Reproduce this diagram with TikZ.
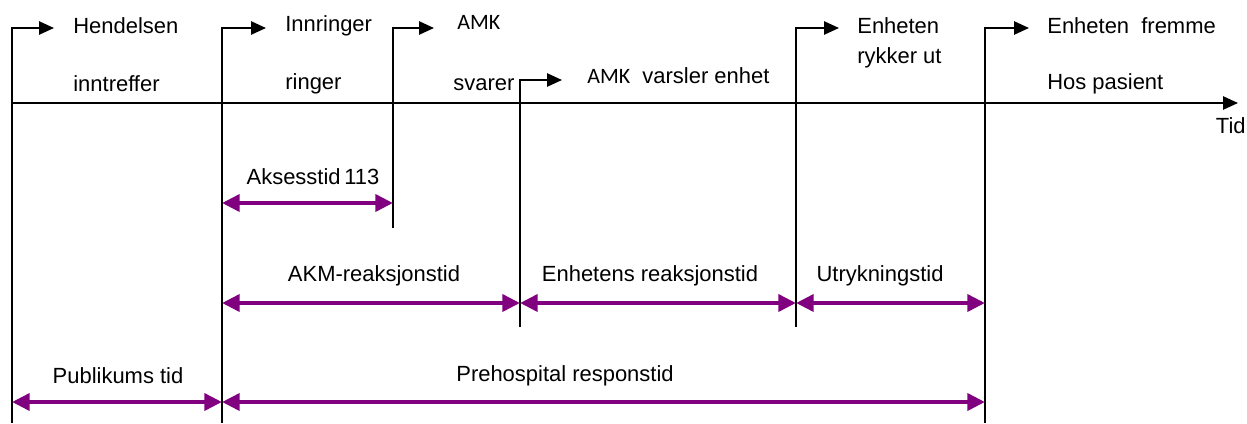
\documentclass[tikz,border=0pt]{standalone}
\usepackage{fontspec}
\setmainfont{Liberation Sans}
\newfontfamily\amkfont{Carlito}
\usetikzlibrary{arrows.meta}
\definecolor{dpurple}{RGB}{128,0,128}
\begin{document}
\begin{tikzpicture}[x=0.02cm,y=-0.02cm,
  lbl/.style={font=\fontsize{12.5}{14}\selectfont, inner sep=0pt, anchor=west},
  clbl/.style={font=\fontsize{12.5}{14}\selectfont, inner sep=0pt},
  amk/.style={font=\amkfont\fontsize{12.5}{14}\selectfont, inner sep=0pt, anchor=west},
  evt/.style={line width=1.1pt, -{Triangle[length=8.5pt,width=7.5pt]}},
  span/.style={draw=dpurple, line width=2.4pt, {Triangle[length=10pt,width=9.5pt]}-{Triangle[length=10pt,width=9.5pt]}}]
\useasboundingbox (0,0) rectangle (1247,423);
% texts
\node[lbl] (hend) at (73,26) {Hendelsen};
\node[lbl] (inntr) at (73,84) {inntreffer};
\node[lbl] (innr) at (285,26) {Innringer};
\node[lbl] (ringer) at (285,84) {ringer};
\node[amk] (amk1) at (457,22) {AMK};
\node[lbl] (svarer) at (453,85) {svarer};
\node[lbl] (varsler) at (587,76) {{\amkfont\fontsize{12.5}{14}\selectfont AMK}\ \ varsler enhet};
\node[lbl] (enh1) at (857,26) {Enheten};
\node[lbl] (rykker) at (857,58) {rykker ut};
\node[lbl] (enh2) at (1047,26) {Enheten\ \ fremme};
\node[lbl] (hos) at (1047,84) {Hos pasient};
\node[lbl, anchor=east] (tid) at (1246,126) {Tid};
% timeline
\coordinate (tl0) at (12,103);
\coordinate (tl1) at (1238,103);
\draw[evt] (tl0) -- (tl1);
% event markers
\coordinate (b1) at (12,423);   \coordinate (a1) at (54,28);
\coordinate (b2) at (222,423);  \coordinate (a2) at (266,28);
\coordinate (b3) at (393,228);  \coordinate (a3) at (434,28);
\coordinate (b4) at (520,327);  \coordinate (a4) at (562,80);
\coordinate (b5) at (796,327);  \coordinate (a5) at (839,28);
\coordinate (b6) at (985,423);  \coordinate (a6) at (1029,28);
\draw[evt] (b1) |- (a1);
\draw[evt] (b2) |- (a2);
\draw[evt] (b3) |- (a3);
\draw[evt] (b4) |- (a4);
\draw[evt] (b5) |- (a5);
\draw[evt] (b6) |- (a6);
% spans
\coordinate (s1l) at (222,203); \coordinate (s1r) at (393,203);
\coordinate (s2l) at (222,303); \coordinate (s2r) at (520,303);
\coordinate (s3l) at (520,303); \coordinate (s3r) at (796,303);
\coordinate (s4l) at (796,303); \coordinate (s4r) at (985,303);
\coordinate (s5l) at (12,402);  \coordinate (s5r) at (222,402);
\coordinate (s6l) at (222,402); \coordinate (s6r) at (985,402);
\draw[span] (s1l) -- (s1r);
\draw[span] (s2l) -- (s2r);
\draw[span] (s3l) -- (s3r);
\draw[span] (s4l) -- (s4r);
\draw[span] (s5l) -- (s5r);
\draw[span] (s6l) -- (s6r);
% span labels
\node[clbl] (l1) at (313,177) {Aksesstid\,113};
\node[clbl] (l2) at (374,276) {AKM-reaksjonstid};
\node[clbl] (l3) at (650,276) {Enhetens reaksjonstid};
\node[clbl] (l4) at (880,276) {Utrykningstid};
\node[clbl] (l5) at (118,376) {Publikums tid};
\node[clbl] (l6) at (565,376) {Prehospital responstid};
\end{tikzpicture}
\end{document}
